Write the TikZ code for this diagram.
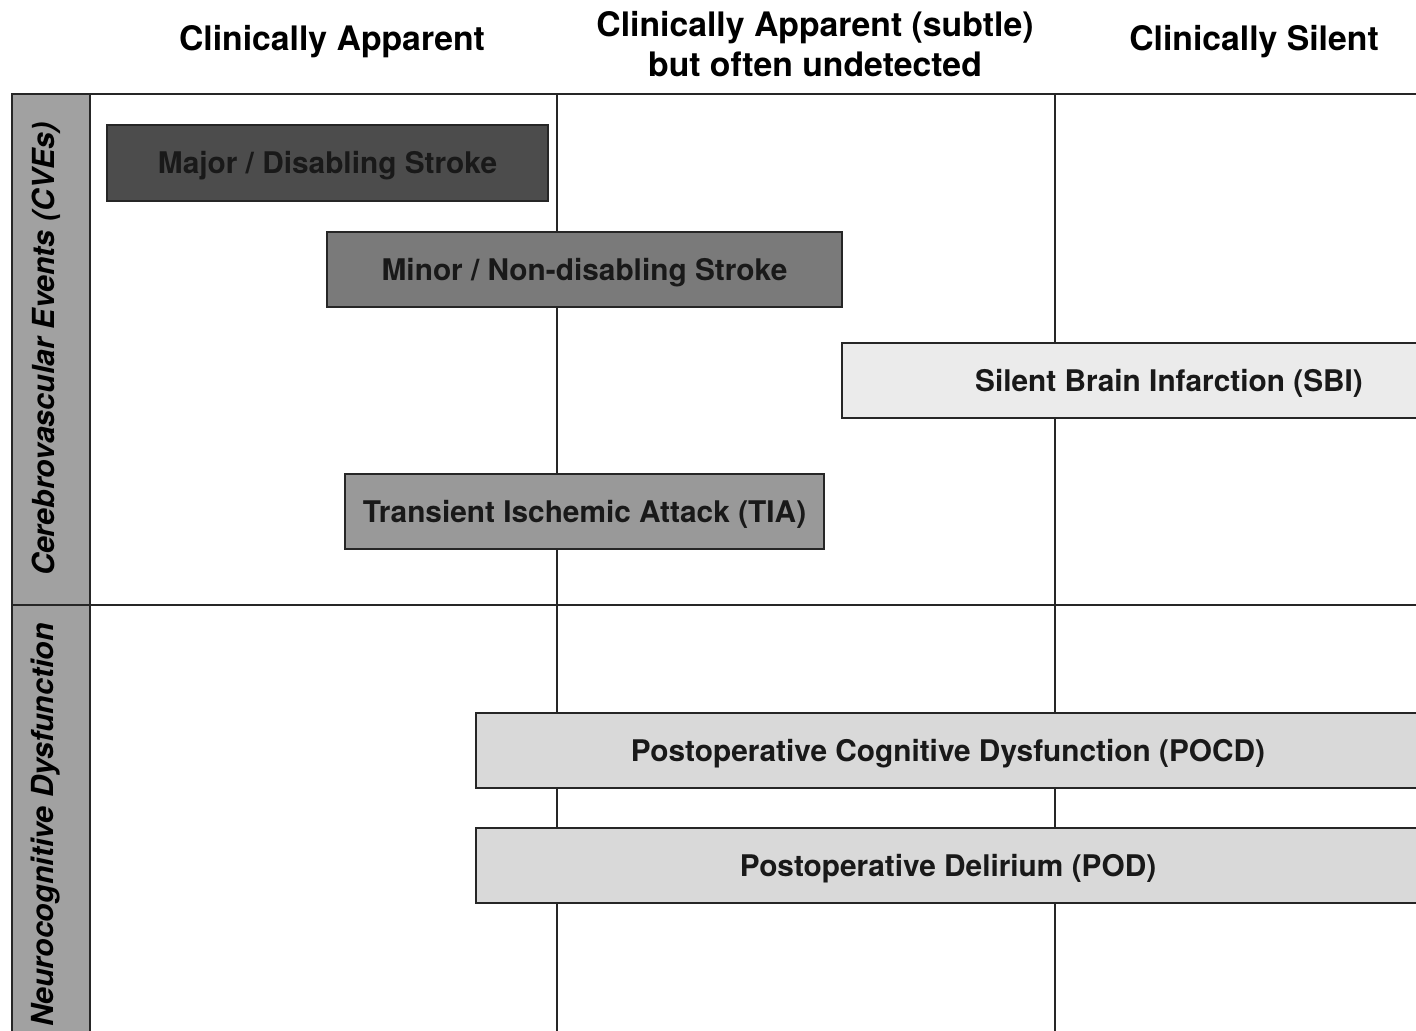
\documentclass[tikz,border=0pt]{standalone}
\usepackage{fontspec}
\setmainfont{TeX Gyre Heros}
\begin{document}
\begin{tikzpicture}[
		x=0.025cm, y=-0.025cm,
		grid/.style={line width=1.4pt, draw=black!85},
		header/.style={font=\bfseries\fontsize{24}{28.5}\selectfont, align=center, inner sep=0pt},
		rowlabel/.style={font=\bfseries\itshape\fontsize{21.6}{25}\selectfont, rotate=90, inner sep=0pt},
		event/.style={rectangle, draw=black!85, line width=1.4pt, inner sep=0pt, minimum height=1.89cm,
			text height=15pt, text depth=0pt,
			font=\bfseries\fontsize{21.2}{25}\selectfont, text=black!90}
		]
		\useasboundingbox (0,0) rectangle (1416,1031);
		\clip (0,0) rectangle (1416,1031);
		% row label column
		\fill[black!37] (12,94) rectangle (90,1040);
		\coordinate (tl) at (12,94);
		\coordinate (tr) at (1430,94);
		\coordinate (ml) at (12,605);
		\coordinate (mr) at (1430,605);
		\coordinate (bl) at (12,1040);
		\coordinate (cl) at (90,94);
		\coordinate (clb) at (90,1040);
		\coordinate (va) at (557,94);
		\coordinate (vab) at (557,1040);
		\coordinate (vb) at (1055,94);
		\coordinate (vbb) at (1055,1040);
		\draw[grid] (tr) -- (tl) -- (bl);
		\draw[grid] (ml) -- (mr);
		\draw[grid] (cl) -- (clb);
		\draw[grid] (va) -- (vab);
		\draw[grid] (vb) -- (vbb);
		% column headers
		\node[header] (apparent) at (332,42) {Clinically Apparent};
		\node[header] (subtle) at (815,44) {Clinically Apparent (subtle)\\but often undetected};
		\node[header] (silent) at (1254,42) {Clinically Silent};
		% row labels
		\node[rowlabel] (cve) at (46,349) {Cerebrovascular Events (CVEs)};
		\node[rowlabel] (ncd) at (46,825) {Neurocognitive Dysfunction};
		% events
		\node[event, fill=black!70, minimum width=11.025cm] (major) at (327.5,163) {Major / Disabling Stroke};
		\node[event, fill=black!52, minimum width=12.875cm] (minor) at (584.5,269.5) {Minor / Non-disabling Stroke};
		\node[event, fill=black!8, minimum width=16.35cm] (sbi) at (1169,380.5) {Silent Brain Infarction (SBI)};
		\node[event, fill=black!40, minimum width=11.975cm] (tia) at (584.5,511.5) {Transient Ischemic Attack (TIA)};
		\node[event, fill=black!15, minimum width=23.6cm] (pocd) at (948,750.5) {Postoperative Cognitive Dysfunction (POCD)};
		\node[event, fill=black!15, minimum width=23.6cm] (pod) at (948,865.5) {Postoperative Delirium (POD)};
	\end{tikzpicture}
\end{document}
